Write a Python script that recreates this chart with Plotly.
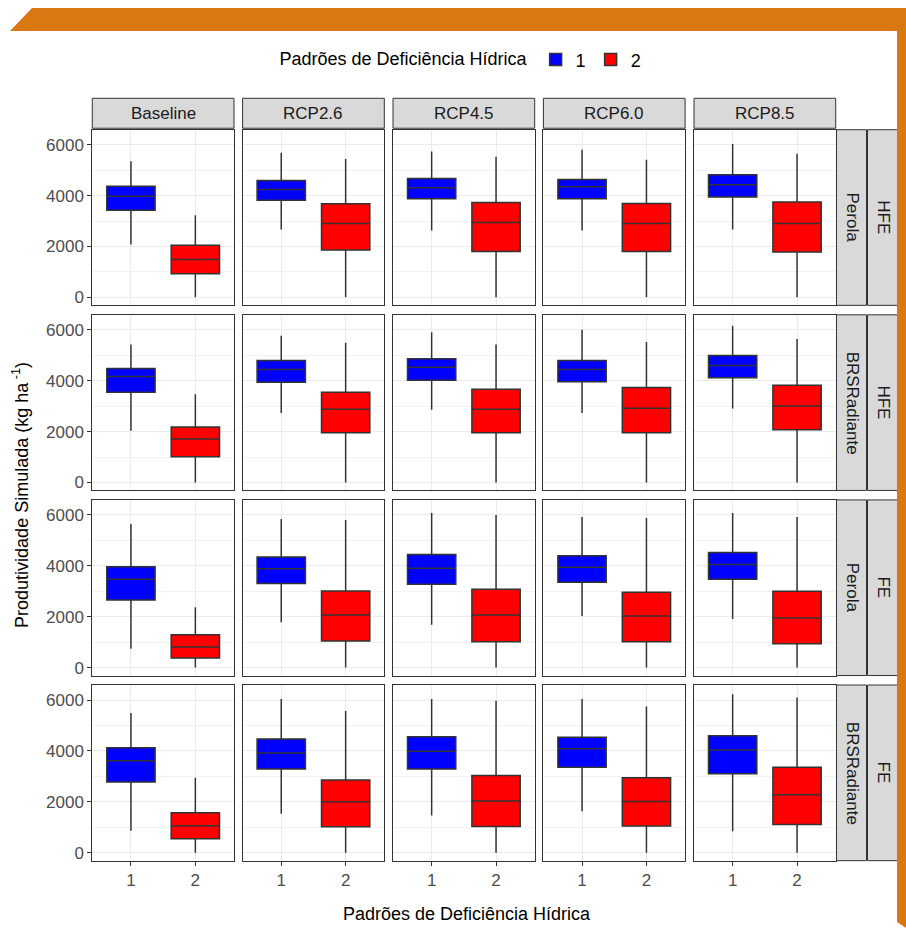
import plotly.graph_objects as go

# Facet labels
scenarios = ["Baseline", "RCP2.6", "RCP4.5", "RCP6.0", "RCP8.5"]
cultivars = ["Perola", "BRSRadiante", "Perola", "BRSRadiante"]
regimes = ["HFE", "HFE", "FE", "FE"]
patterns = ["1", "2"]
y_ticks = [0, 2000, 4000, 6000]

# Box statistics per scenario: (lower whisker, Q1, median, Q3, upper whisker)
hfe_perola_1 = [(2080, 3420, 3970, 4370, 5350), (2670, 3820, 4240, 4590, 5680),
                (2630, 3880, 4310, 4670, 5730), (2630, 3880, 4350, 4630, 5800),
                (2670, 3950, 4430, 4820, 6030)]
hfe_perola_2 = [(0, 930, 1490, 2050, 3230), (0, 1860, 2900, 3680, 5440),
                (0, 1800, 2940, 3730, 5530), (0, 1800, 2900, 3690, 5410),
                (0, 1780, 2900, 3750, 5650)]
hfe_brs_1 = [(2030, 3550, 4170, 4480, 5420), (2730, 3940, 4440, 4790, 5770),
             (2860, 4020, 4530, 4860, 5900), (2730, 3960, 4440, 4790, 6000),
             (2910, 4120, 4600, 4990, 6160)]
hfe_brs_2 = [(0, 1010, 1710, 2180, 3470), (0, 1950, 2880, 3550, 5490),
             (0, 1950, 2880, 3660, 5420), (0, 1950, 2920, 3730, 5520),
             (0, 2070, 3010, 3820, 5640)]
fe_perola_1 = [(740, 2660, 3470, 3960, 5640), (1780, 3300, 3880, 4350, 5840),
               (1680, 3270, 3900, 4440, 6080), (2030, 3350, 3940, 4400, 5920),
               (1910, 3470, 4050, 4520, 6080)]
fe_perola_2 = [(0, 380, 810, 1290, 2370), (0, 1040, 2070, 3010, 5800),
               (0, 1010, 2070, 3080, 6000), (0, 1010, 2030, 2960, 5880),
               (0, 940, 1950, 3000, 5920)]
fe_brs_1 = [(860, 2780, 3610, 4120, 5490), (1530, 3290, 3920, 4470, 6040),
            (1460, 3290, 3990, 4560, 6040), (1630, 3360, 4080, 4540, 6040),
            (840, 3100, 4040, 4600, 6230)]
fe_brs_2 = [(0, 550, 1060, 1570, 2940), (0, 1020, 2000, 2860, 5570),
            (0, 1030, 2030, 3030, 5970), (0, 1050, 2010, 2940, 5750),
            (0, 1110, 2280, 3360, 6100)]

row_stats = [(hfe_perola_1, hfe_perola_2), (hfe_brs_1, hfe_brs_2),
             (fe_perola_1, fe_perola_2), (fe_brs_1, fe_brs_2)]

W, H = 906, 930
FILL = {"1": "#0000FF", "2": "#FF0000"}
EDGE = "#333333"
FONT = "Liberation Sans, Arial, Helvetica, sans-serif"


def px(x):
    return x / W


def py(y):
    return 1 - y / H


# Panel geometry (pixels)
col_left = [92.3, 242.6, 393.0, 543.4, 694.0]
col_w = 141.7
row_top = [130.0, 315.5, 501.0, 686.5]
row_h = 176.0

fig = go.Figure()
layout = {}
shapes = []
annotations = []


def label(x, y, text, size, color, angle=0):
    return dict(x=px(x), y=py(y), xref="paper", yref="paper", text=text,
                xanchor="center", yanchor="middle", textangle=angle,
                showarrow=False, font=dict(size=size, color=color, family=FONT))


for r in range(4):
    for c in range(5):
        i = r * 5 + c + 1
        xa = "x" if i == 1 else f"x{i}"
        ya = "y" if i == 1 else f"y{i}"
        for k, pat in enumerate(patterns):
            lo, q1, med, q3, hi = row_stats[r][k][c]
            fig.add_trace(go.Box(
                x=[int(pat)], lowerfence=[lo], q1=[q1], median=[med], q3=[q3],
                upperfence=[hi], width=0.75, whiskerwidth=0,
                fillcolor=FILL[pat], line=dict(color=EDGE, width=1.5),
                name=pat, legendgroup=pat, showlegend=(i == 1),
                xaxis=xa, yaxis=ya, hoverinfo="skip",
            ))
        x0 = col_left[c]
        y0 = row_top[r]
        bottom = r == 3
        left = c == 0
        layout[f"xaxis{'' if i == 1 else i}"] = dict(
            domain=[px(x0), px(x0 + col_w)], anchor=ya,
            range=[0.4, 2.6], tickvals=[1, 2], ticktext=patterns,
            showticklabels=bottom, ticks="outside" if bottom else "",
            ticklen=4, tickcolor=EDGE, tickwidth=1,
            tickfont=dict(size=17, color="#4D4D4D", family=FONT),
            showgrid=True, gridcolor="#EBEBEB", gridwidth=1, zeroline=False,
            showline=True, mirror=True, linecolor=EDGE, linewidth=1,
            fixedrange=True,
        )
        layout[f"yaxis{'' if i == 1 else i}"] = dict(
            domain=[py(y0 + row_h), py(y0)], anchor=xa,
            range=[-314, 6590], tickvals=y_ticks,
            ticktext=[str(v) for v in y_ticks],
            showticklabels=left, ticks="outside" if left else "",
            ticklen=4, tickcolor=EDGE, tickwidth=1,
            tickfont=dict(size=17, color="#4D4D4D", family=FONT),
            showgrid=True, gridcolor="#EBEBEB", gridwidth=1, zeroline=False,
            minor=dict(dtick=1000, tick0=0, showgrid=True,
                       gridcolor="#F3F3F3", gridwidth=0.6),
            showline=True, mirror=True, linecolor=EDGE, linewidth=1,
            fixedrange=True,
        )

# Column strips
for c, name in enumerate(scenarios):
    x0 = col_left[c]
    shapes.append(dict(type="rect", xref="paper", yref="paper",
                       x0=px(x0), x1=px(x0 + col_w), y0=py(128.5), y1=py(98.5),
                       fillcolor="#D9D9D9", line=dict(color=EDGE, width=1)))
    annotations.append(label(x0 + col_w / 2, 114, name, 17, "#1A1A1A"))

# Row strips (cultivar inside, water-deficit regime outside)
for r in range(4):
    y0 = row_top[r]
    for (sx0, sx1, text) in [(836.5, 866.5, cultivars[r]),
                             (867.5, 898.0, regimes[r])]:
        shapes.append(dict(type="rect", xref="paper", yref="paper",
                           x0=px(sx0), x1=px(sx1), y0=py(y0 + row_h), y1=py(y0),
                           fillcolor="#D9D9D9", line=dict(color=EDGE, width=1)))
        annotations.append(label((sx0 + sx1) / 2 + 0.5, y0 + row_h / 2, text,
                                 17, "#1A1A1A", angle=90))

# Axis titles
annotations.append(label(467, 916, "Padrões de Deficiência Hídrica", 18, "#000000"))
annotations.append(label(21, 496, "Produtividade Simulada (kg ha<sup> -1</sup>)",
                         18, "#000000", angle=-90))

# Orange page frame: slanted top band and right-hand bar
ORANGE = "#D97713"
shapes.append(dict(type="path", xref="paper", yref="paper",
                   path=f"M {px(10)} {py(31)} L {px(32)} {py(8)} L {px(906)} {py(8)} "
                        f"L {px(906)} {py(31)} Z",
                   fillcolor=ORANGE, line=dict(width=0), layer="above"))
shapes.append(dict(type="path", xref="paper", yref="paper",
                   path=f"M {px(897)} {py(31)} L {px(906)} {py(31)} L {px(906)} {py(930)} "
                        f"L {px(897)} {py(924)} Z",
                   fillcolor=ORANGE, line=dict(width=0), layer="above"))

fig.update_layout(
    width=W, height=H,
    margin=dict(l=0, r=0, t=0, b=0),
    paper_bgcolor="#FFFFFF", plot_bgcolor="#FFFFFF",
    boxmode="overlay",
    shapes=shapes, annotations=annotations,
    legend=dict(orientation="h", x=px(462), xanchor="center", y=py(60),
                yanchor="middle",
                title=dict(text="Padrões de Deficiência Hídrica", side="left",
                           font=dict(size=18, color="#000000", family=FONT)),
                font=dict(size=18, color="#000000", family=FONT),
                itemwidth=30, bgcolor="rgba(0,0,0,0)"),
    **layout,
)

fig.write_html("out.html")
